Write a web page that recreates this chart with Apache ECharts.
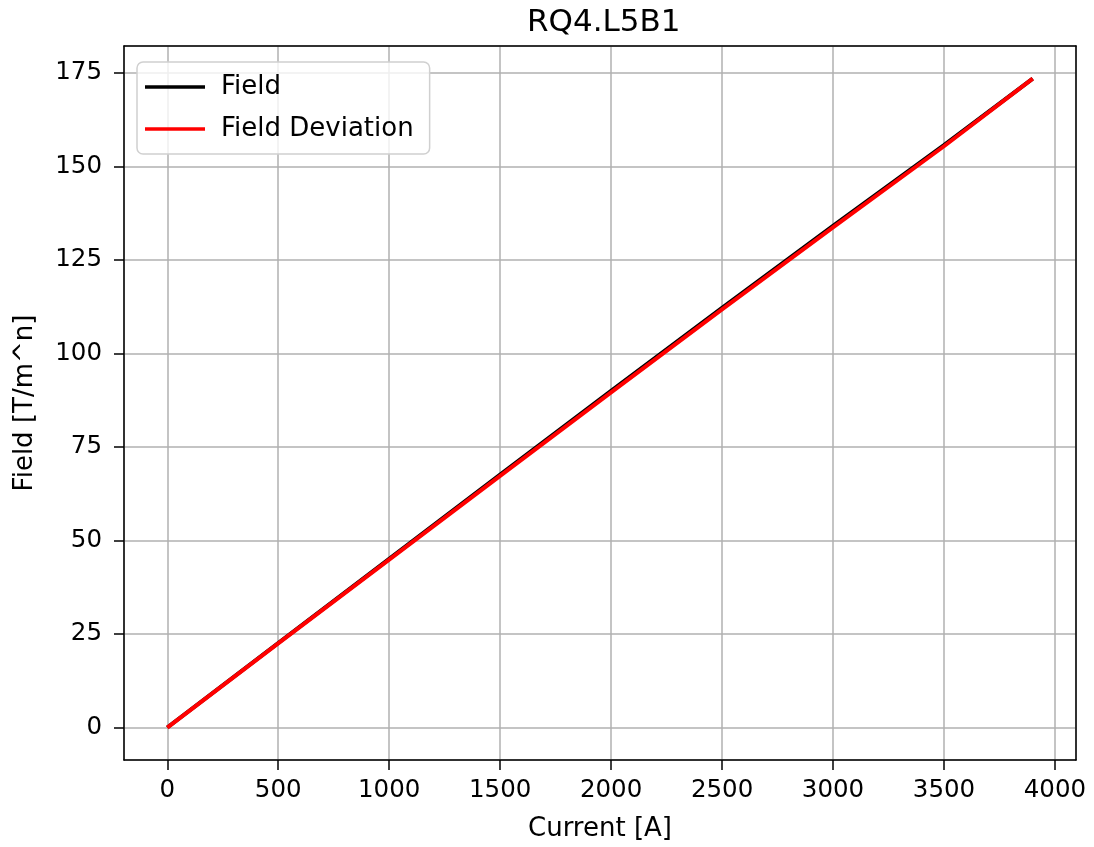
<!DOCTYPE html>
<html>
<head>
<meta charset="utf-8">
<script src="https://cdn.jsdelivr.net/npm/echarts@6/dist/echarts.min.js"></script>
<style>
html, body { margin: 0; padding: 0; background: #fff; }
#main { width: 1094px; height: 847px; }
</style>
</head>
<body>
<div id="main"></div>
<script>
var current = [0, 500, 1000, 1500, 2000, 2500, 3000, 3500, 3900];
var field = [0, 22.6, 45.1, 67.6, 90.0, 112.2, 134.1, 155.7, 173.5];
var fieldDev = [0, 22.5, 44.9, 67.3, 89.6, 111.8, 133.7, 155.4, 173.5];

var myChart = echarts.init(document.getElementById('main'));

function pairs(xs, ys) {
	return xs.map(function(x, i) { return [x, ys[i]]; });
}

var font = 'DejaVu Sans';
var tick = { show: true, inside: false, length: 10, lineStyle: { color: '#000', width: 1.5 } };
var grid = { show: true, lineStyle: { color: '#b0b0b0', width: 1.5 } };
var frame = { show: true, onZero: false, lineStyle: { color: '#000', width: 1.5 } };

option = {
	animation: false,
	title: {
		text: 'RQ4.L5B1',
		left: 522,
		top: 2,
		textStyle: { fontFamily: font, fontSize: 31, fontWeight: 'normal', color: '#000' }
	},
	legend: {
		left: 137,
		top: 62,
		orient: 'vertical',
		icon: 'rect',
		itemWidth: 60,
		itemHeight: 3.5,
		itemGap: 16,
		padding: [12, 16, 12, 8],
		backgroundColor: 'rgba(255,255,255,0.8)',
		borderColor: '#d0d0d0',
		borderWidth: 1.5,
		borderRadius: 6,
		textStyle: { fontFamily: font, fontSize: 26, color: '#000', padding: [0, 0, 0, 11] },
		data: ['Field', 'Field Deviation']
	},
	grid: {
		left: 124,
		right: 18,
		top: 46,
		bottom: 87
	},
	xAxis: [{
		type: 'value',
		min: -195,
		max: 4095,
		minInterval: 500,
		maxInterval: 500,
		name: 'Current [A]',
		nameLocation: 'middle',
		nameGap: 56,
		nameTextStyle: { fontFamily: font, fontSize: 26, color: '#000' },
		axisLine: frame,
		axisTick: tick,
		axisLabel: { fontFamily: font, fontSize: 24.5, color: '#000', margin: 18, showMinLabel: false, showMaxLabel: false, formatter: function(v) { return String(v); } },
		splitLine: grid
	}, {
		type: 'value',
		position: 'top',
		min: -195,
		max: 4095,
		axisLine: frame,
		axisTick: { show: false },
		axisLabel: { show: false },
		splitLine: { show: false }
	}],
	yAxis: [{
		type: 'value',
		min: -8.68,
		max: 182.2,
		minInterval: 25,
		maxInterval: 25,
		name: 'Field [T/m^n]',
		nameLocation: 'middle',
		nameGap: 86,
		nameTextStyle: { fontFamily: font, fontSize: 26, color: '#000' },
		axisLine: frame,
		axisTick: tick,
		axisLabel: { fontFamily: font, fontSize: 24.5, color: '#000', margin: 22, showMinLabel: false, showMaxLabel: false },
		splitLine: grid
	}, {
		type: 'value',
		position: 'right',
		min: -8.68,
		max: 182.2,
		axisLine: frame,
		axisTick: { show: false },
		axisLabel: { show: false },
		splitLine: { show: false }
	}],
	series: [{
		name: 'Field',
		type: 'line',
		symbol: 'none',
		lineStyle: { color: '#000', width: 4 },
		itemStyle: { color: '#000' },
		data: pairs(current, field)
	}, {
		name: 'Field Deviation',
		type: 'line',
		symbol: 'none',
		lineStyle: { color: '#ff0000', width: 4 },
		itemStyle: { color: '#ff0000' },
		data: pairs(current, fieldDev)
	}]
};

myChart.setOption(option);
</script>
</body>
</html>
